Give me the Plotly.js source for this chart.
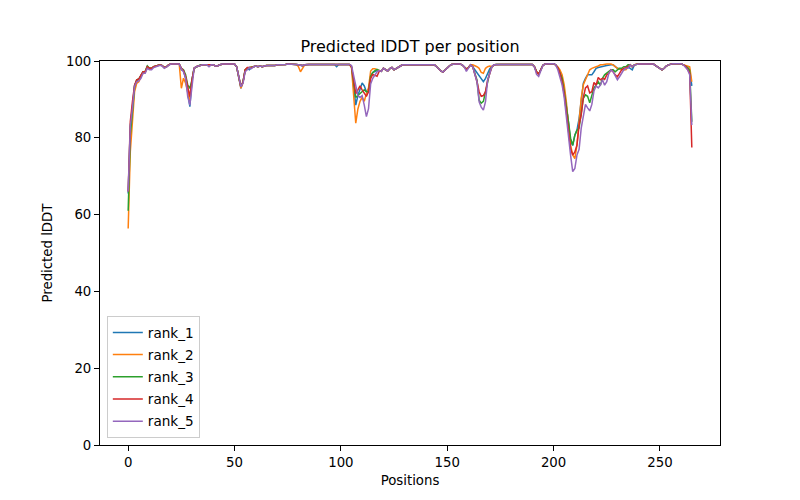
<!DOCTYPE html>
<html>
<head>
<meta charset="utf-8">
<script src="https://cdn.plot.ly/plotly-3.0.1.min.js"></script>
<style>html,body{margin:0;padding:0;background:#fff}</style>
</head>
<body>
<div id="chart" style="width:800px;height:500px"></div>
<script>
// ---- data ----
const seriesNames = ["rank_1", "rank_2", "rank_3", "rank_4", "rank_5"];
const seriesColors = ["#1f77b4", "#ff7f0e", "#2ca02c", "#d62728", "#9467bd"];
const xTicks = [0, 50, 100, 150, 200, 250];
const yTicks = [0, 20, 40, 60, 80, 100];

const rank1 = [
/*0*/   65.5, 83, 88, 93.7, 94.8, 95.3, 96.2, 97.2, 97.2, 98.5,
/*10*/  98.1, 98.1, 98.5, 98.7, 98.8, 99, 98.8, 98.3, 98.5, 99,
/*20*/  99.2, 99.2, 99.2, 99.2, 99.2, 97.7, 97.5, 95.5, 91.1, 88.1,
/*30*/  95.1, 98.1, 98.5, 98.7, 99, 99, 99, 99, 98.9, 99,
/*40*/  99, 98.7, 98.7, 99, 99.2, 99.2, 99.2, 99.2, 99.2, 99.2,
/*50*/  99.2, 98.5, 95.9, 92.9, 94.6, 97.7, 98.1, 97.7, 98.3, 98.5,
/*60*/  98.7, 98.5, 98.7, 98.5, 98.7, 98.8, 98.8, 98.8, 98.8, 98.8,
/*70*/  99, 99, 99.1, 99.1, 99.1, 99.2, 99.2, 99.2, 99.1, 99.1,
/*80*/  99, 98.8, 98.8, 99, 99.1, 99.1, 99.1, 99.1, 99.1, 99.1,
/*90*/  99.1, 99.1, 99.1, 99.1, 99.1, 99.1, 99.1, 99.1, 98.5, 99.1,
/*100*/ 99.1, 99.1, 99.1, 99.1, 99.1, 98.5, 93, 88.5, 91, 93,
/*110*/ 94.3, 93.5, 92, 92.5, 96, 97, 97.3, 97.5, 97.5, 97.3,
/*120*/ 98.1, 97.7, 97.4, 98, 98.3, 97.7, 98.1, 98.5, 98.7, 99,
/*130*/ 99, 99, 99.1, 99.1, 99.1, 99.1, 99.1, 99.1, 99.1, 99,
/*140*/ 99, 99, 99, 99, 99, 98.5, 97.9, 97.4, 97.1, 97.7,
/*150*/ 98.3, 98.7, 99.1, 99.2, 99.2, 99.2, 99.2, 99, 98.5, 97.9,
/*160*/ 98.3, 99, 98.5, 97.7, 97, 96, 95.2, 94.6, 95.5, 97,
/*170*/ 98, 98.5, 99, 99.1, 99.1, 99.1, 99.1, 99.1, 99.1, 99.1,
/*180*/ 99.1, 99.1, 99.1, 99.1, 99.1, 99.1, 99.1, 99.1, 99.1, 99.1,
/*190*/ 99.1, 98.5, 97.2, 96.6, 97.7, 98.9, 99.2, 99.3, 99.3, 99.3,
/*200*/ 99.3, 99, 98.2, 96.8, 95.5, 92.5, 88.5, 84, 79, 78,
/*210*/ 80.7, 82, 85, 90.3, 94.2, 95.5, 96.4, 96.4, 96.4, 97.2,
/*220*/ 98.1, 98.3, 98.5, 98.5, 98.7, 98.8, 99, 99, 99, 98.5,
/*230*/ 98.1, 97.9, 97.7, 97.7, 98, 98.5, 98.1, 97.7, 99, 99.2,
/*240*/ 99.2, 99.2, 99.2, 99.2, 99.2, 99.2, 99.2, 99.2, 98.8, 98.5,
/*250*/ 98.1, 97.7, 98.1, 98.7, 99, 99.2, 99.3, 99.3, 99.3, 99.3,
/*260*/ 99.3, 99, 98.7, 98.3, 97.7, 93.5
];

const rank2 = [
/*0*/   56.4, 76.4, 84.2, 92, 94.2, 94.6, 96, 96.8, 97, 98.3,
/*10*/  98.1, 98.1, 98.5, 98.7, 98.8, 99, 98.8, 98.3, 98.5, 99,
/*20*/  99.2, 99.2, 99.2, 99.2, 99.2, 92.9, 95.5, 94.2, 92, 89.8,
/*30*/  94.6, 98.1, 98.5, 98.7, 99, 99, 99, 99, 98.9, 99,
/*40*/  99, 98.7, 98.7, 99, 99.2, 99.2, 99.2, 99.2, 99.2, 99.2,
/*50*/  99.2, 98.5, 95.5, 92.9, 94.4, 97.7, 98.1, 98.3, 98.3, 98.5,
/*60*/  98.7, 98.5, 98.7, 98.5, 98.7, 98.8, 98.8, 98.8, 98.8, 98.8,
/*70*/  99, 99, 99.1, 99.1, 99.1, 99.2, 99.2, 99.2, 99.1, 99.1,
/*80*/  98.6, 97.2, 98.1, 99, 99.1, 99.1, 99.1, 99.1, 99.1, 99.1,
/*90*/  99.1, 99.1, 99.1, 99.1, 99.1, 99.1, 99.1, 99.1, 99.1, 99.1,
/*100*/ 99.1, 99.1, 99.1, 99.1, 99.1, 98.3, 91, 83.8, 87.5, 89.5,
/*110*/ 90.5, 89.5, 91.5, 93, 97.4, 98, 98, 97.7, 97.5, 97.3,
/*120*/ 98.1, 97.7, 97.4, 98, 98.3, 97.7, 98.1, 98.5, 98.7, 99,
/*130*/ 99, 99, 99.1, 99.1, 99.1, 99.1, 99.1, 99.1, 99.1, 99,
/*140*/ 99, 99, 99, 99, 99, 98.5, 97.9, 97.4, 97.1, 97.7,
/*150*/ 98.3, 98.7, 99.1, 99.2, 99.2, 99.2, 99.2, 99, 98.5, 97.9,
/*160*/ 98.3, 99, 99, 98.8, 98.5, 98.1, 97, 96.8, 98.1, 98.5,
/*170*/ 98.7, 98.5, 99, 99.1, 99.1, 99.1, 99.1, 99.1, 99.1, 99.1,
/*180*/ 99.1, 99.1, 99.1, 99.1, 99.1, 99.1, 99.1, 99.1, 99.1, 99.1,
/*190*/ 99.1, 98.5, 97.2, 96.6, 97.7, 98.9, 99.2, 99.3, 99.3, 99.3,
/*200*/ 99.3, 99, 98.5, 97.7, 96.4, 93.8, 89.4, 83.3, 78.1, 75.5,
/*210*/ 74.6, 78.1, 84.2, 90.3, 93.8, 95.1, 96.4, 97.7, 98.1, 98.4,
/*220*/ 98.5, 98.7, 99, 99, 99.2, 99.2, 99.2, 99.2, 99, 98.5,
/*230*/ 98.1, 97.9, 97.7, 97.7, 97.7, 98.5, 99, 98.5, 99, 99.2,
/*240*/ 99.2, 99.2, 99.2, 99.2, 99.2, 99.2, 99.2, 99.2, 98.8, 98.5,
/*250*/ 98.1, 97.7, 98.1, 98.7, 99, 99.2, 99.3, 99.3, 99.3, 99.3,
/*260*/ 99.3, 99, 98.8, 98.8, 98.5, 94.6
];

const rank3 = [
/*0*/   61, 80.7, 86.8, 93.3, 95.1, 95.3, 96.2, 97.2, 97.3, 98.7,
/*10*/  98.1, 98.1, 98.5, 98.7, 98.8, 99, 98.8, 98.3, 98.5, 99,
/*20*/  99.2, 99.2, 99.2, 99.2, 99.2, 98.1, 97.7, 96.4, 93.7, 92.9,
/*30*/  95.1, 98.1, 98.5, 98.7, 99, 99, 99, 99, 98.9, 99,
/*40*/  99, 98.7, 98.7, 99, 99.2, 99.2, 99.2, 99.2, 99.2, 99.2,
/*50*/  99.2, 98.5, 95.9, 93.3, 94.6, 97.7, 98.1, 98.3, 98.3, 98.5,
/*60*/  98.7, 98.5, 98.7, 98.5, 98.7, 98.8, 98.8, 98.8, 98.8, 98.8,
/*70*/  99, 99, 99.1, 99.1, 99.1, 99.2, 99.2, 99.2, 99.1, 99.1,
/*80*/  99, 98.8, 98.8, 99, 99.1, 99.1, 99.1, 99.1, 99.1, 99.1,
/*90*/  99.1, 99.1, 99.1, 99.1, 99.1, 99.1, 99.1, 99.1, 99.1, 99.1,
/*100*/ 99.1, 99.1, 99.1, 99.1, 99.1, 98.5, 94, 90.5, 91, 91.5,
/*110*/ 92, 92.5, 92, 92, 96, 97, 97.5, 97.8, 97.5, 97.3,
/*120*/ 98.1, 97.7, 97.4, 98, 98.3, 97.7, 98.1, 98.5, 98.7, 99,
/*130*/ 99, 99, 99.1, 99.1, 99.1, 99.1, 99.1, 99.1, 99.1, 99,
/*140*/ 99, 99, 99, 99, 99, 98.5, 97.9, 97.4, 97.1, 97.7,
/*150*/ 98.3, 98.7, 99.1, 99.2, 99.2, 99.2, 99.2, 99, 98.5, 97.9,
/*160*/ 98.3, 99, 98.5, 97, 95, 89.8, 89, 89.5, 92, 95,
/*170*/ 97, 98.5, 99, 99.1, 99.1, 99.1, 99.1, 99.1, 99.1, 99.1,
/*180*/ 99.1, 99.1, 99.1, 99.1, 99.1, 99.1, 99.1, 99.1, 99.1, 99.1,
/*190*/ 99.1, 98.5, 97.2, 96.6, 97.7, 98.9, 99.2, 99.3, 99.3, 99.3,
/*200*/ 99.3, 99, 98.2, 96.8, 95.5, 92, 88.5, 84.2, 79.9, 78.1,
/*210*/ 80.7, 82, 82.5, 86, 90.3, 91.2, 90.8, 89.1, 91.2, 93,
/*220*/ 93.7, 94.6, 93.7, 95.5, 96.4, 96.8, 97.2, 97.7, 97.7, 97.2,
/*230*/ 97.7, 98.1, 98.1, 98.5, 98.5, 99, 99, 98.5, 99, 99.2,
/*240*/ 99.2, 99.2, 99.2, 99.2, 99.2, 99.2, 99.2, 99.2, 98.8, 98.5,
/*250*/ 98.1, 97.7, 98.1, 98.7, 99, 99.2, 99.3, 99.3, 99.3, 99.3,
/*260*/ 99.3, 99, 98.7, 98.3, 97.5, 84.2
];

const rank4 = [
/*0*/   66, 84.2, 89.4, 93.7, 95.1, 95.3, 96.3, 97.2, 97.2, 98.5,
/*10*/  98.1, 98.1, 98.5, 98.7, 98.8, 99, 98.8, 98.3, 98.5, 99,
/*20*/  99.2, 99.2, 99.2, 99.2, 99.2, 98.1, 97.5, 95.9, 92.9, 90.7,
/*30*/  95.1, 98.1, 98.5, 98.7, 99, 99, 99, 99, 98.9, 99,
/*40*/  99, 98.7, 98.7, 99, 99.2, 99.2, 99.2, 99.2, 99.2, 99.2,
/*50*/  99.2, 98.5, 95.9, 93.3, 94.6, 97.7, 98.3, 98.3, 98.3, 98.5,
/*60*/  98.7, 98.5, 98.7, 98.5, 98.7, 98.8, 98.8, 98.8, 98.8, 98.8,
/*70*/  99, 99, 99.1, 99.1, 99.1, 99.2, 99.2, 99.2, 99.1, 99.1,
/*80*/  99, 98.8, 98.8, 99, 99.1, 99.1, 99.1, 99.1, 99.1, 99.1,
/*90*/  99.1, 99.1, 99.1, 99.1, 99.1, 99.1, 99.1, 99.1, 99.1, 99.1,
/*100*/ 99.1, 99.1, 99.1, 99.1, 99.1, 98.5, 95, 91.5, 92.5, 93.5,
/*110*/ 92.5, 91.5, 90.8, 92, 95.5, 96.5, 96.2, 96, 97.3, 97.3,
/*120*/ 98.1, 97.7, 97.4, 98, 98.3, 97.7, 98.1, 98.5, 98.7, 99,
/*130*/ 99, 99, 99.1, 99.1, 99.1, 99.1, 99.1, 99.1, 99.1, 99,
/*140*/ 99, 99, 99, 99, 99, 98.5, 97.9, 97.4, 97.1, 97.7,
/*150*/ 98.3, 98.7, 99.1, 99.2, 99.2, 99.2, 99.2, 99, 98.5, 97.9,
/*160*/ 98.3, 99, 98.5, 96.8, 94.6, 92, 90.8, 91, 92, 95,
/*170*/ 97, 98.5, 99, 99.1, 99.1, 99.1, 99.1, 99.1, 99.1, 99.1,
/*180*/ 99.1, 99.1, 99.1, 99.1, 99.1, 99.1, 99.1, 99.1, 99.1, 99.1,
/*190*/ 99.1, 98.5, 97.2, 96.6, 97.7, 98.9, 99.2, 99.3, 99.3, 99.3,
/*200*/ 99.3, 99, 98.2, 96.8, 94.6, 91.4, 86.8, 82, 77.2, 75.5,
/*210*/ 76.3, 78.1, 83.3, 86, 90.5, 93, 93.5, 91.7, 92, 94.4,
/*220*/ 93.7, 95.7, 95.1, 95.5, 95.2, 96.4, 96.8, 97.7, 97.2, 96.4,
/*230*/ 95.9, 96.8, 97.7, 98.1, 98.3, 98.5, 99, 98.5, 99, 99.2,
/*240*/ 99.2, 99.2, 99.2, 99.2, 99.2, 99.2, 99.2, 99.2, 98.8, 98.5,
/*250*/ 98.1, 97.7, 98.1, 98.7, 99, 99.2, 99.3, 99.3, 99.3, 99.3,
/*260*/ 99.3, 99, 98.7, 97.9, 96.8, 77.5
];

const rank5 = [
/*0*/   66, 83, 87.7, 93.3, 94.6, 94.8, 95.5, 96.8, 96.8, 98.1,
/*10*/  97.7, 97.7, 98.3, 98.6, 98.7, 98.9, 98.7, 98.1, 98.4, 98.9,
/*20*/  99.2, 99.2, 99.2, 99.2, 99.2, 97.9, 97.2, 95.5, 90.7, 88.5,
/*30*/  94.2, 98.1, 98.5, 98.7, 99, 99, 99, 99, 98.5, 99,
/*40*/  99, 98.7, 98.7, 99, 99.2, 99.2, 99.2, 99.2, 99.2, 99.2,
/*50*/  99.2, 98.5, 95.9, 93.3, 94.2, 97.2, 97.7, 98.3, 98, 98.5,
/*60*/  98.7, 98.5, 98.7, 98.5, 98.7, 98.8, 98.8, 98.8, 98.8, 98.8,
/*70*/  99, 99, 99.1, 99.1, 99.1, 99.2, 99.2, 99.2, 99.1, 99.1,
/*80*/  99, 98.8, 98.8, 99, 99.1, 99.1, 99.1, 99.1, 99.1, 99.1,
/*90*/  99.1, 99.1, 99.1, 99.1, 99.1, 99.1, 99.1, 99.1, 99.1, 99.1,
/*100*/ 99.1, 99.1, 99.1, 99.1, 99.1, 98.8, 96, 93, 91, 90.5,
/*110*/ 91, 88.5, 85.5, 87.6, 94, 95.5, 96.5, 97.2, 97.5, 97.3,
/*120*/ 98.1, 97.7, 97.4, 98, 98.3, 97.7, 98.1, 98.5, 98.7, 99,
/*130*/ 99, 99, 99.1, 99.1, 99.1, 99.1, 99.1, 99.1, 99.1, 99,
/*140*/ 99, 99, 99, 99, 99, 98.5, 97.9, 97.4, 97.1, 97.7,
/*150*/ 98.3, 98.7, 99.1, 99.2, 99.2, 99.2, 99.2, 99, 98.5, 97.3,
/*160*/ 98.3, 99, 98.5, 96.4, 94.6, 89.4, 88, 87.2, 89.4, 95,
/*170*/ 96.5, 98.5, 99, 99.1, 99.1, 99.1, 99.1, 99.1, 99.1, 99.1,
/*180*/ 99.1, 99.1, 99.1, 99.1, 99.1, 99.1, 99.1, 99.1, 99.1, 99.1,
/*190*/ 99.1, 98.5, 96.5, 96, 97.3, 98.9, 99.2, 99.3, 99.3, 99.3,
/*200*/ 99.3, 99, 97.7, 95.5, 93.8, 90.5, 85, 80, 75.5, 71.2,
/*210*/ 72, 75.5, 77, 82.5, 86, 88.7, 87.8, 87, 88.7, 92.2,
/*220*/ 93.5, 93, 93.7, 95.1, 93.7, 94.6, 96.8, 97.7, 97.2, 95.9,
/*230*/ 95.1, 95.9, 96.8, 97.7, 98.1, 98.1, 99, 98.5, 99, 99.2,
/*240*/ 99.2, 99.2, 99.2, 99.2, 99.2, 99.2, 99.2, 99.2, 98.8, 98.5,
/*250*/ 98.1, 97.7, 98.1, 98.7, 99, 99.2, 99.3, 99.3, 99.3, 99.3,
/*260*/ 99.3, 99, 98.3, 97.7, 96.4, 83.3
];

const seriesValues = [rank1, rank2, rank3, rank4, rank5];

// ---- chart ----
const FONT = "DejaVu Sans, Liberation Sans, sans-serif";
const traces = seriesValues.map((vals, i) => ({
  type: "scatter",
  mode: "lines",
  name: seriesNames[i],
  legendgroup: seriesNames[i],
  x: vals.map((_, k) => k),
  y: vals,
  line: { color: seriesColors[i], width: 1.5 }
}));

const axisCommon = {
  showline: true, mirror: true, linecolor: "black", linewidth: 1,
  ticks: "outside", ticklen: 5, tickwidth: 1, tickcolor: "black",
  showgrid: false, zeroline: false,
  tickfont: { family: FONT, size: 13.3, color: "black" }
};

const layout = {
  width: 800, height: 500,
  margin: { l: 100, r: 80, t: 61, b: 55, pad: 0 },
  paper_bgcolor: "white", plot_bgcolor: "white",
  font: { family: FONT, size: 13.3, color: "black" },
  title: {
    text: "Predicted lDDT per position",
    font: { family: FONT, size: 16, color: "black" },
    x: 0.5125, xanchor: "center", y: 1 - 46 / 500, yref: "container", yanchor: "middle"
  },
  xaxis: Object.assign({}, axisCommon, {
    range: [-13.25, 278.25], tickvals: xTicks, ticktext: xTicks.map(String),
    title: { text: "Positions", font: { family: FONT, size: 13.3, color: "black" }, standoff: 6 }
  }),
  yaxis: Object.assign({}, axisCommon, {
    range: [0, 100], tickvals: yTicks, ticktext: yTicks.map(String),
    title: { text: "Predicted lDDT", font: { family: FONT, size: 13.3, color: "black" }, standoff: 10 }
  }),
  showlegend: true,
  legend: {
    x: 0.011, y: 0.018, xanchor: "left", yanchor: "bottom",
    bgcolor: "rgba(255,255,255,0.8)", bordercolor: "#cccccc", borderwidth: 1,
    tracegroupgap: 1.5,
    font: { family: FONT, size: 13.6, color: "black" }
  }
};

Plotly.newPlot("chart", traces, layout, { displayModeBar: false, staticPlot: true });
</script>
</body>
</html>
